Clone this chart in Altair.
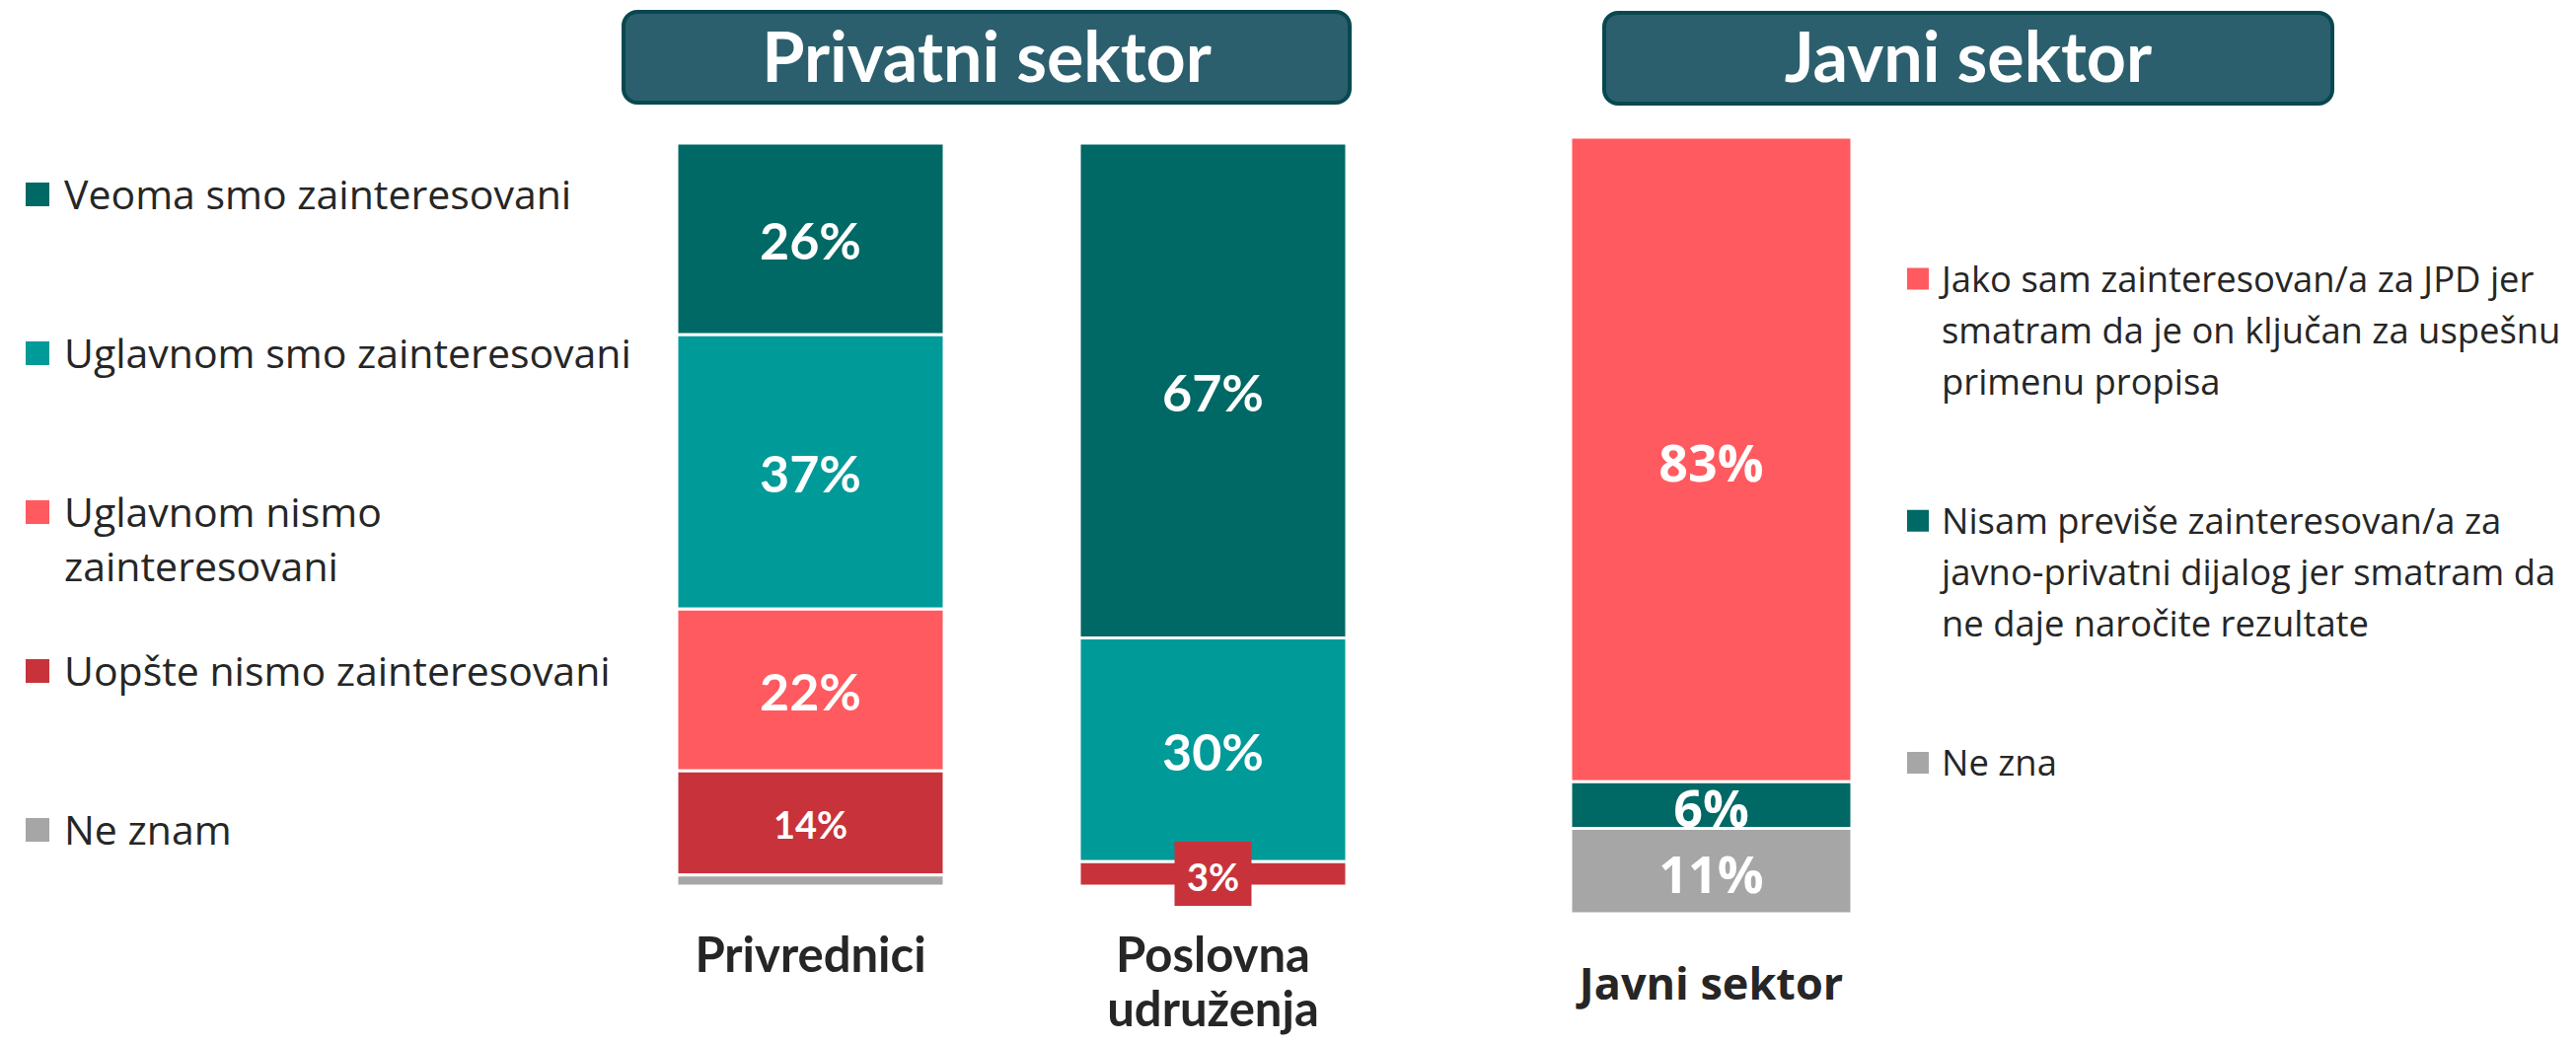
import altair as alt
import pandas as pd

# ---------------- data ----------------
private_groups = ["Privrednici", "Poslovna udruženja"]
private_cats = [
    "Veoma smo zainteresovani",
    "Uglavnom smo zainteresovani",
    "Uglavnom nismo zainteresovani",
    "Uopšte nismo zainteresovani",
    "Ne znam",
]
privrednici_vals = [25.8, 36.9, 21.8, 14.0, 1.5]
poslovna_vals = [66.6, 30.1, 0.0, 3.3, 0.0]

public_groups = ["Javni sektor"]
public_cats = [
    "Jako sam zainteresovan/a za JPD jer smatram da je on ključan za uspešnu primenu propisa",
    "Nisam previše zainteresovan/a za javno-privatni dijalog jer smatram da ne daje naročite rezultate",
    "Ne zna",
]
public_vals = [83, 6, 11]

left_legend_lines = [
    ["Veoma smo zainteresovani"],
    ["Uglavnom smo zainteresovani"],
    ["Uglavnom nismo", "zainteresovani"],
    ["Uopšte nismo zainteresovani"],
    ["Ne znam"],
]
right_legend_lines = [
    ["Jako sam zainteresovan/a za JPD jer", "smatram da je on ključan za uspešnu", "primenu propisa"],
    ["Nisam previše zainteresovan/a za", "javno-privatni dijalog jer smatram da", "ne daje naročite rezultate"],
    ["Ne zna"],
]
panel_titles = ["Privatni sektor", "Javni sektor"]

private_colors = ["#006865", "#009A98", "#FF5A5F", "#C8333B", "#A6A6A6"]
public_colors = ["#FF5A5F", "#006865", "#A6A6A6"]

# ---------------- tables ----------------
priv_rows = []
for g, vals in zip(private_groups, [privrednici_vals, poslovna_vals]):
    for i, (c, v) in enumerate(zip(private_cats, vals)):
        priv_rows.append({"group": g, "cat": c, "value": v, "ord": i})
priv_df = pd.DataFrame(priv_rows)

pub_df = pd.DataFrame({
    "group": public_groups * len(public_cats),
    "cat": public_cats,
    "value": public_vals,
    "ord": list(range(len(public_cats))),
})

left_leg = alt.Data(values=[{"cat": c, "lines": l} for c, l in zip(private_cats, left_legend_lines)])
right_leg = alt.Data(values=[{"cat": c, "lines": l} for c, l in zip(public_cats, right_legend_lines)])

color_scale = alt.Scale(domain=private_cats + public_cats, range=private_colors + public_colors)
TXT = "#262626"

# ---------------- private panel ----------------
xs_priv = alt.Scale(type="band", domain=private_groups, range=[678, 1357], paddingInner=0.3358, paddingOuter=0)
ys_priv = alt.Scale(domain=[0, 100], range=[890, 137])
ax_priv = alt.Axis(orient="bottom", title=None, domain=False, ticks=False, tickSize=0, grid=False,
                   labelFont="Lato", labelFontWeight="bold", labelFontSize=49, labelColor=TXT,
                   labelPadding=0, offset=-65, labelBaseline="alphabetic", labelLineHeight=55,
                   labelLimit=0, labelAngle=0, labelExpr="split(datum.label, ' ')")

priv_base = alt.Chart(priv_df).transform_filter("datum.value > 0").transform_stack(
    stack="value", as_=["v0", "v1"], groupby=["group"],
    sort=[alt.SortField("ord", order="descending")],
).transform_calculate(
    mid="(datum.v0 + datum.v1) / 2",
    label="format(datum.value, '.0f') + '%'",
)

priv_bars = priv_base.mark_bar(stroke="white", strokeWidth=3).encode(
    x=alt.X("group:N", scale=xs_priv, axis=ax_priv, sort=private_groups),
    y=alt.Y("v0:Q", scale=ys_priv, axis=None),
    y2="v1:Q",
    color=alt.Color("cat:N", scale=color_scale, legend=None),
)
priv_text = priv_base.transform_filter("datum.value >= 10").mark_text(
    font="Lato", fontWeight="bold", color="white", baseline="middle", dy=5
).encode(
    x=alt.X("group:N", scale=xs_priv, axis=None, sort=private_groups),
    y=alt.Y("mid:Q", scale=ys_priv, axis=None),
    text="label:N",
    size=alt.condition("datum.value >= 20", alt.value(52), alt.value(38)),
)
small_filter = "datum.value >= 2 && datum.value < 10"
priv_box = priv_base.transform_filter(small_filter).mark_point(
    shape="M-1,-0.833H1V0.833H-1Z", size=78 * 78, filled=True, opacity=1,
    color="#C8333B", strokeWidth=0
).encode(
    x=alt.X("group:N", scale=xs_priv, axis=None, sort=private_groups),
    y=alt.Y("mid:Q", scale=ys_priv, axis=None),
)
priv_box_text = priv_base.transform_filter(small_filter).mark_text(
    font="Lato", fontWeight="bold", color="white", baseline="middle", dy=6, fontSize=38
).encode(
    x=alt.X("group:N", scale=xs_priv, axis=None, sort=private_groups),
    y=alt.Y("mid:Q", scale=ys_priv, axis=None),
    text="label:N",
)

# ---------------- public panel ----------------
xs_pub = alt.Scale(type="band", domain=public_groups, range=[1584, 1869], paddingInner=0, paddingOuter=0)
ys_pub = alt.Scale(domain=[0, 100], range=[918, 131])
ax_pub = alt.Axis(orient="bottom", title=None, domain=False, ticks=False, tickSize=0, grid=False,
                  labelFont="Open Sans", labelFontWeight="bold", labelFontSize=45, labelColor=TXT,
                  labelPadding=0, offset=-37, labelBaseline="alphabetic",
                  labelLimit=0, labelAngle=0)

pub_base = alt.Chart(pub_df).transform_stack(
    stack="value", as_=["v0", "v1"], groupby=["group"],
    sort=[alt.SortField("ord", order="descending")],
).transform_calculate(
    mid="(datum.v0 + datum.v1) / 2",
    label="format(datum.value, '.0f') + '%'",
)
last_cat = public_cats[-1]
not_last = f"datum.cat != '{last_cat}'"
is_last = f"datum.cat == '{last_cat}'"


def pub_bar(flt, axis):
    return pub_base.transform_filter(flt).mark_bar(stroke="white", strokeWidth=3).encode(
        x=alt.X("group:N", scale=xs_pub, axis=axis),
        y=alt.Y("v0:Q", scale=ys_pub, axis=None),
        y2="v1:Q",
        color=alt.Color("cat:N", scale=color_scale, legend=None),
    )


def pub_text(flt):
    return pub_base.transform_filter(flt).mark_text(
        font="Open Sans", fontWeight="bold", color="white", baseline="middle", dy=6, fontSize=52
    ).encode(
        x=alt.X("group:N", scale=xs_pub, axis=None),
        y=alt.Y("mid:Q", scale=ys_pub, axis=None),
        text="label:N",
    )


# ---------------- titles ----------------
title_df = pd.DataFrame({"t": panel_titles})
box_style = dict(cornerRadius=14, fill="#2C5F6E", stroke="#08484E", strokeWidth=4)
title_priv_box = alt.Chart(title_df).transform_filter(f"datum.t == '{panel_titles[0]}'").mark_rect(**box_style).encode(
    x=alt.value(624), x2=alt.value(1360), y=alt.value(4), y2=alt.value(96))
title_pub_box = alt.Chart(title_df).transform_filter(f"datum.t == '{panel_titles[1]}'").mark_rect(**box_style).encode(
    x=alt.value(1618), x2=alt.value(2356), y=alt.value(5), y2=alt.value(97))
title_style = dict(font="Lato", fontWeight="bold", fontSize=70, color="white", align="center", baseline="alphabetic")
title_priv_txt = alt.Chart(title_df).transform_filter(f"datum.t == '{panel_titles[0]}'").mark_text(**title_style).encode(
    x=alt.value(992), y=alt.value(75), text="t:N")
title_pub_txt = alt.Chart(title_df).transform_filter(f"datum.t == '{panel_titles[1]}'").mark_text(**title_style).encode(
    x=alt.value(1987), y=alt.value(75), text="t:N")

# ---------------- legends ----------------
ly_left = alt.Scale(domain=private_cats, range=[189, 833], padding=0)
ly_right = alt.Scale(domain=public_cats, range=[274.5, 765], padding=0)

left_sq = alt.Chart(left_leg).mark_square(size=576, opacity=1).encode(
    x=alt.value(30), y=alt.Y("cat:N", scale=ly_left, axis=None),
    color=alt.Color("cat:N", scale=color_scale, legend=None))
left_txt = alt.Chart(left_leg).mark_text(
    align="left", baseline="alphabetic", dy=15, font="Open Sans", fontSize=41, lineHeight=55, color=TXT
).encode(x=alt.value(57), y=alt.Y("cat:N", scale=ly_left, axis=None), text="lines:N")

right_sq = alt.Chart(right_leg).mark_square(size=484, opacity=1).encode(
    x=alt.value(1936), y=alt.Y("cat:N", scale=ly_right, axis=None),
    color=alt.Color("cat:N", scale=color_scale, legend=None))
right_txt = alt.Chart(right_leg).mark_text(
    align="left", baseline="alphabetic", dy=13, font="Open Sans", fontSize=36.4, lineHeight=52, color=TXT
).encode(x=alt.value(1960), y=alt.Y("cat:N", scale=ly_right, axis=None), text="lines:N")

chart = alt.layer(
    title_priv_box, title_pub_box, title_priv_txt, title_pub_txt,
    priv_bars, priv_text, priv_box, priv_box_text,
    pub_bar(not_last, ax_pub), pub_text(not_last), pub_bar(is_last, None), pub_text(is_last),
    left_sq, left_txt, right_sq, right_txt,
).resolve_scale(
    x="independent", y="independent"
).properties(
    width=2595, height=1041, padding=0,
    autosize=alt.AutoSizeParams(type="none"),
    background="white",
).configure_view(stroke=None)

chart.save("out.html", embed_options={"renderer": "svg", "actions": False})
